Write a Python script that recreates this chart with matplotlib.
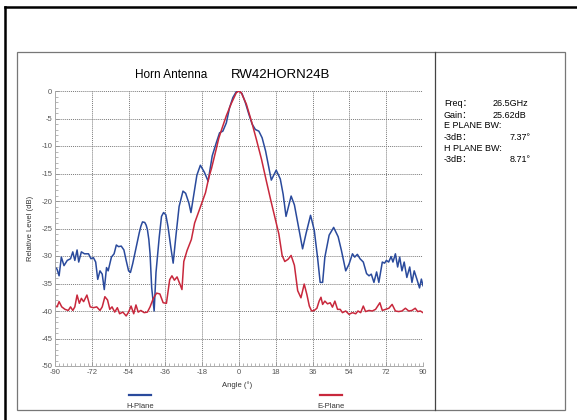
import matplotlib
matplotlib.use("Agg")
import matplotlib.pyplot as plt
from matplotlib.lines import Line2D
from matplotlib.patches import Rectangle
from matplotlib.ticker import MultipleLocator

plt.rcParams['font.family'] = ['Liberation Sans', 'Noto Sans CJK SC', 'DejaVu Sans']
plt.rcParams['axes.unicode_minus'] = False

title_left = "Horn Antenna"
title_right = "RW42HORN24B"
x_label = "Angle (°)"
y_label = "Relative Level (dB)"
x_ticks = [-90, -72, -54, -36, -18, 0, 18, 36, 54, 72, 90]
y_ticks = [0, -5, -10, -15, -20, -25, -30, -35, -40, -45, -50]
series_names = ["H-Plane", "E-Plane"]
info_lines = [("Freq：", "26.5GHz"), ("Gain：", "25.62dB"), ("E PLANE BW:", ""),
              ("-3dB：", "7.37°"), ("H PLANE BW:", ""), ("-3dB：", "8.71°")]

h_angle = [-90, -89, -88, -86.9, -85.6, -84, -82.4, -81.3, -80.3, -79.2, -78.4, -77.1,
           -75.6, -73.6, -72.4, -71.2, -70.1, -69.1, -68, -66.9, -65.9, -64.8, -64,
           -62.4, -61.1, -60, -58.9, -57.6, -56.3, -55.2, -54, -53.1, -52, -50.4, -49.5,
           -48.8, -48, -47.2, -46.1, -45.4, -44.8, -44.1, -43.5, -42.7, -41.5, -40.6,
           -39, -37.9, -36.9, -35.8, -34.7, -33.4, -32.2, -30.9, -29.3, -27.4, -26.1,
           -24.5, -23.5, -22, -20.6, -18.9, -16.9, -15.1, -13.1, -11.1, -9.5, -7.9,
           -6.2, -4.6, -3, -1.3, 0, 1.5, 3.1, 4.8, 6.4, 8, 9.7, 11.3, 13, 14.6, 15.8,
           18.2, 20.2, 21.6, 23, 25.5, 27.1, 29.5, 31.1, 32.8, 35, 36.8, 38.4, 39.7,
           40.9, 42, 44.1, 46.3, 48.5, 50.1, 52.2, 53.8, 55.5, 56.6, 57.9, 59.2, 60.8,
           62.4, 63.6, 64.7, 66, 67.3, 68.4, 70.1, 71.2, 72.1, 73.2, 74.4, 75.3, 76.5,
           77.6, 78.6, 79.7, 80.8, 82.1, 83.5, 84.6, 85.7, 87, 88.3, 89.2, 90]
h_level = [-32.0, -32.4, -33.6, -30.2, -31.75, -30.8, -30.5, -29.25, -30.8, -28.9, -31.1,
           -29.25, -29.6, -29.6, -30.5, -30.3, -31.1, -34.25, -32.7, -33.3, -36.1, -32.1,
           -32.7, -30.2, -29.6, -28.0, -28.3, -28.2, -28.9, -30.8, -32.7, -33.0, -31.4,
           -28.6, -27.0, -25.8, -24.6, -23.8, -23.9, -24.4, -25.2, -27.0, -29.6, -35.8,
           -40.0, -33.0, -26.5, -22.8, -22.1, -22.5, -24.7, -28.3, -31.3, -26.5, -21.0,
           -18.2, -18.6, -20.4, -22.1, -18.6, -15.3, -13.5, -14.8, -16.4, -11.8, -9.4,
           -7.6, -7.3, -5.8, -3.0, -1.2, -0.1, 0.0, -0.5, -2.1, -4.2, -6.0, -7.0, -7.3,
           -8.5, -10.9, -13.9, -16.2, -14.4, -16.0, -18.8, -22.8, -19.1, -20.7, -25.5,
           -28.7, -25.9, -22.6, -25.3, -30.2, -34.8, -34.8, -30.2, -26.2, -24.8, -26.5,
           -29.0, -32.7, -31.5, -29.6, -30.2, -29.7, -30.5, -31.1, -33.2, -33.6, -33.3,
           -34.8, -32.9, -34.8, -31.1, -31.3, -30.8, -31.1, -30.1, -31.1, -29.6, -32.0,
           -30.2, -32.7, -31.1, -33.9, -32.0, -34.8, -32.7, -34.2, -35.8, -34.2, -35.4]

e_angle = [-90, -89, -88, -86.7, -85.1, -83.5, -82.4, -81.3, -80.3, -79.2, -78.1, -77.1,
           -76, -74.4, -72.8, -71.2, -69.6, -68, -66.9, -65.6, -64.3, -63.2, -62.1,
           -60.8, -59.5, -58.4, -56.8, -55.2, -54, -52.8, -51.5, -50.4, -49.3, -48,
           -46.4, -44.8, -43.5, -41.9, -40.3, -38.7, -37.1, -35.5, -33.9, -32.8, -31.6,
           -30.3, -28.8, -27.9, -27, -25.4, -23.3, -21.7, -18.8, -16.4, -14.8, -13.4,
           -11.3, -9.9, -8.5, -6.2, -3.8, -1.3, 0, 1.1, 3.6, 6.1, 8.5, 11, 13.4, 15.5,
           17.5, 19.5, 21.1, 22.4, 24, 25.5, 27.1, 28.7, 30.3, 31.9, 33.2, 34.4, 35.5,
           36.8, 38.1, 39.2, 40.1, 40.9, 42, 43.3, 44.6, 45.7, 46.9, 48.2, 49.5, 50.6,
           52.2, 53.8, 55.5, 57.1, 58.2, 59.5, 60.8, 61.9, 63.6, 65.2, 66.8, 68.9, 70.1,
           71.7, 73.3, 74.9, 76.5, 78.1, 79.7, 81.4, 83, 84.6, 86.2, 87.4, 88.7, 90]
e_level = [-39.0, -39.25, -38.3, -39.25, -39.7, -39.9, -39.25, -39.9, -39.25, -37.1, -38.6,
           -37.7, -38.3, -37.1, -39.25, -39.4, -39.25, -39.9, -39.25, -37.4, -38.0, -39.7,
           -39.25, -40.2, -39.4, -40.5, -40.2, -40.9, -40.2, -39.1, -40.5, -38.9, -40.2,
           -39.9, -40.3, -40.2, -39.25, -37.7, -36.75, -36.9, -38.5, -38.6, -34.3, -33.6,
           -34.4, -33.8, -35.2, -36.1, -31.0, -29.0, -27.0, -24.0, -21.0, -18.5, -15.8,
           -14.0, -10.8, -8.6, -7.0, -4.5, -2.3, -0.3, 0.0, -0.3, -2.4, -5.5, -8.8, -12.4,
           -16.4, -19.8, -22.9, -26.0, -29.9, -31.0, -30.6, -29.9, -31.7, -36.3, -37.6,
           -35.1, -37.0, -39.1, -40.0, -39.9, -39.5, -38.2, -37.5, -38.8, -38.2, -38.7,
           -38.5, -39.3, -38.2, -39.7, -39.7, -40.3, -40.0, -40.6, -40.3, -40.5, -40.0,
           -40.3, -39.1, -40.1, -39.9, -40.0, -39.7, -38.5, -39.9, -39.7, -39.5, -38.8,
           -40.0, -40.1, -40.0, -39.5, -40.0, -39.9, -39.5, -40.1, -40.0, -40.3]

W, H = 577, 420
fig = plt.figure(figsize=(W / 100, H / 100), dpi=100)
fig.patch.set_facecolor('white')

def fx(px):
    return px / W

def fy(py):
    return 1 - py / H

# outer black frame
fig.add_artist(Line2D([fx(5), fx(5)], [fy(7), fy(420)], color='black', lw=1.8))
fig.add_artist(Line2D([fx(5), fx(576)], [fy(7), fy(7)], color='black', lw=1.8))
# inner box
fig.add_artist(Rectangle((fx(17), fy(410)), fx(565) - fx(17), fy(52) - fy(410),
                         fill=False, edgecolor='#777777', lw=0.9))
fig.add_artist(Line2D([fx(435), fx(435)], [fy(52), fy(410)], color='#444444', lw=0.9))

blue = '#2a4a9c'
red = '#c8283c'

ax = fig.add_axes([fx(55), fy(366), fx(423) - fx(55), fy(91) - fy(366)])
ax.plot(h_angle, h_level, color=blue, lw=1.1)
ax.plot(e_angle, e_level, color=red, lw=1.1)
ax.set_xlim(-90, 90)
ax.set_ylim(-50, 0)
ax.set_xticks(x_ticks)
ax.set_yticks(y_ticks)
ax.xaxis.set_minor_locator(MultipleLocator(2))
ax.yaxis.set_minor_locator(MultipleLocator(1))
ax.grid(True, which='major', color='#7a7a7a', linestyle=(0, (1, 1)), lw=0.7)
for s in ['top', 'right']:
    ax.spines[s].set_visible(False)
for s in ['left', 'bottom']:
    ax.spines[s].set_color('#aaaaaa')
    ax.spines[s].set_linewidth(0.7)
ax.tick_params(which='major', direction='in', length=3, width=0.5, color='#888888',
               labelsize=5.5, labelcolor='#555555', pad=2)
ax.tick_params(which='minor', direction='in', length=2, width=0.5, color='#999999')

fig.text(fx(237), fy(385), x_label, ha='center', va='center', fontsize=5.5, color='#333333')
fig.text(fx(31), fy(228), y_label, ha='center', va='center', rotation=90, fontsize=5.5,
         color='#333333')

fig.text(fx(171), fy(75), title_left, ha='center', va='center', fontsize=8.5)
fig.text(fx(281), fy(75), title_right, ha='center', va='center', fontsize=9.5)

# legend
fig.add_artist(Line2D([fx(129), fx(151)], [fy(395), fy(395)], color=blue, lw=1.6))
fig.text(fx(140), fy(406), series_names[0], ha='center', va='center', fontsize=5.5,
         color='#333333')
fig.add_artist(Line2D([fx(320), fx(342)], [fy(395), fy(395)], color=red, lw=1.6))
fig.text(fx(331), fy(406), series_names[1], ha='center', va='center', fontsize=5.5,
         color='#333333')

# info panel
y0 = 104
for i, (lab, val) in enumerate(info_lines):
    yy = y0 + i * 11
    fig.text(fx(444), fy(yy), lab, ha='left', va='center', fontsize=6.5)
    if val:
        if i < 2:
            fig.text(fx(493), fy(yy), val, ha='left', va='center', fontsize=6.5)
        else:
            fig.text(fx(531), fy(yy), val, ha='right', va='center', fontsize=6.5)

fig.savefig('out.png', dpi=100)
